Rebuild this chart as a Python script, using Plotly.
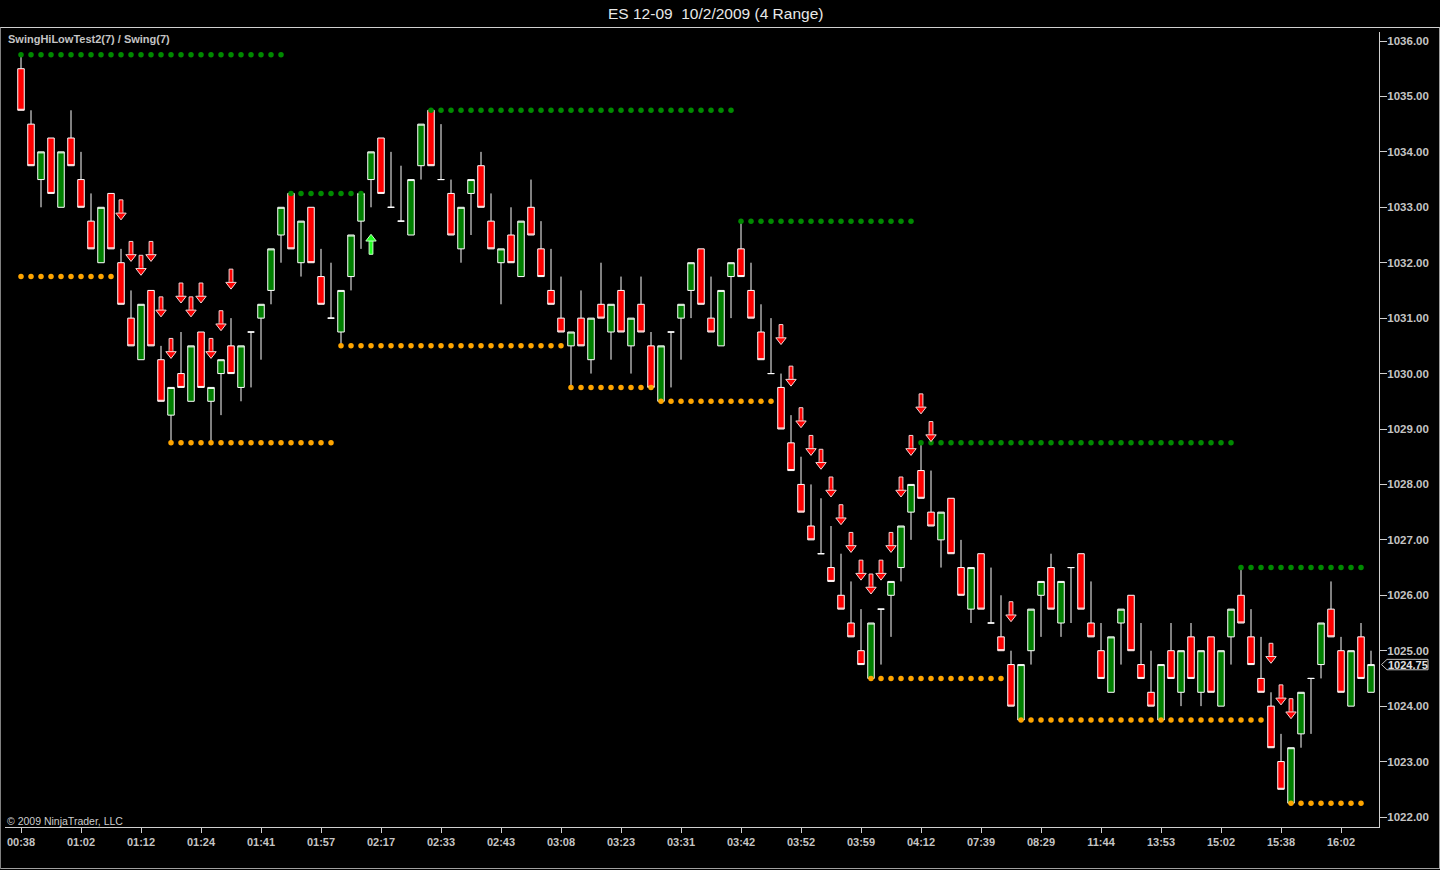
import plotly.graph_objects as go

# ---------------- data ----------------
TITLE = "ES 12-09\u00a0 10/2/2009 (4 Range)"
INDICATOR = "SwingHiLowTest2(7) / Swing(7)"
COPYRIGHT = "\u00a9 2009 NinjaTrader, LLC"

opens = [1035.5, 1034.5, 1033.5, 1034.25, 1033.0, 1034.25, 1033.5, 1032.75, 1032.0, 1033.25,
         1032.0, 1031.0, 1030.25, 1031.5, 1030.25, 1029.25, 1030.0, 1029.5, 1030.75, 1029.5,
         1030.0, 1030.5, 1029.75, 1030.75, 1031.0, 1031.5, 1032.5, 1033.25, 1032.0, 1033.0,
         1031.75, 1031.0, 1030.75, 1031.75, 1032.75, 1033.5, 1034.25, 1033.0, 1032.75, 1032.5,
         1033.75, 1034.75, 1033.5, 1033.25, 1032.25, 1033.25, 1033.75, 1032.75, 1032.0, 1032.5,
         1031.75, 1033.0, 1032.25, 1031.5, 1031.0, 1030.5, 1031.0, 1030.25, 1031.25, 1030.75,
         1031.5, 1030.5, 1031.25, 1030.5, 1029.5, 1030.75, 1031.0, 1031.5, 1032.25, 1031.0,
         1030.5, 1031.75, 1032.25, 1031.5, 1030.75, 1030.0, 1029.75, 1028.75, 1028.0, 1027.25,
         1026.75, 1026.5, 1026.0, 1025.5, 1025.0, 1024.5, 1025.75, 1026.0, 1026.5, 1027.5,
         1028.25, 1027.5, 1027.0, 1027.75, 1026.5, 1025.75, 1026.75, 1025.5, 1025.25, 1024.75,
         1023.75, 1025.0, 1026.0, 1026.5, 1025.5, 1026.5, 1026.75, 1025.5, 1025.0, 1024.25,
         1025.5, 1026.0, 1024.75, 1024.25, 1023.75, 1025.0, 1024.25, 1025.25, 1024.25, 1025.25,
         1024.0, 1025.25, 1026.0, 1025.25, 1024.5, 1024.0, 1023.0, 1022.25, 1023.5, 1024.5,
         1024.75, 1025.75, 1025.0, 1024.0, 1025.25, 1024.25]
highs = [1035.75, 1034.75, 1034.0, 1034.25, 1034.0, 1034.75, 1034.0, 1033.25, 1033.0, 1033.25,
         1032.25, 1031.5, 1031.25, 1031.5, 1030.5, 1029.75, 1030.75, 1030.5, 1030.75, 1029.75,
         1030.25, 1031.0, 1030.5, 1030.75, 1031.25, 1032.25, 1033.0, 1033.25, 1032.75, 1033.0,
         1032.25, 1032.0, 1031.5, 1032.5, 1033.25, 1034.0, 1034.25, 1034.0, 1033.75, 1033.5,
         1034.5, 1034.75, 1034.5, 1033.5, 1033.0, 1033.5, 1034.0, 1033.25, 1032.25, 1033.0,
         1032.75, 1033.5, 1032.75, 1032.25, 1031.75, 1030.75, 1031.5, 1031.0, 1032.0, 1031.25,
         1031.75, 1031.0, 1031.75, 1030.75, 1030.5, 1030.75, 1031.25, 1032.0, 1032.25, 1031.75,
         1031.5, 1032.0, 1032.75, 1032.0, 1031.25, 1031.0, 1030.0, 1029.25, 1028.5, 1028.0,
         1027.75, 1027.25, 1026.75, 1026.25, 1025.75, 1025.5, 1025.75, 1026.25, 1027.25, 1028.0,
         1028.75, 1028.25, 1027.5, 1027.75, 1027.0, 1026.5, 1026.75, 1026.5, 1026.0, 1025.0,
         1024.75, 1025.75, 1026.25, 1026.75, 1026.25, 1026.5, 1026.75, 1026.25, 1025.5, 1025.25,
         1025.75, 1026.0, 1025.5, 1025.0, 1024.75, 1025.5, 1025.0, 1025.5, 1025.0, 1025.25,
         1025.0, 1025.75, 1026.5, 1025.75, 1025.25, 1024.25, 1023.5, 1023.25, 1024.25, 1024.5,
         1025.5, 1026.25, 1025.25, 1025.0, 1025.5, 1025.0]
lows = [1034.75, 1033.75, 1033.0, 1033.25, 1033.0, 1033.75, 1033.0, 1032.25, 1032.0, 1032.25,
        1031.25, 1030.5, 1030.25, 1030.5, 1029.5, 1028.75, 1029.75, 1029.5, 1029.75, 1028.75,
        1029.25, 1030.0, 1029.5, 1029.75, 1030.25, 1031.25, 1032.0, 1032.25, 1031.75, 1032.0,
        1031.25, 1031.0, 1030.5, 1031.5, 1032.25, 1033.0, 1033.25, 1033.0, 1032.75, 1032.5,
        1033.5, 1033.75, 1033.5, 1032.5, 1032.0, 1032.5, 1033.0, 1032.25, 1031.25, 1032.0,
        1031.75, 1032.5, 1031.75, 1031.25, 1030.75, 1029.75, 1030.5, 1030.0, 1031.0, 1030.25,
        1030.75, 1030.0, 1030.75, 1029.75, 1029.5, 1029.75, 1030.25, 1031.0, 1031.25, 1030.75,
        1030.5, 1031.0, 1031.75, 1031.0, 1030.25, 1030.0, 1029.0, 1028.25, 1027.5, 1027.0,
        1026.75, 1026.25, 1025.75, 1025.25, 1024.75, 1024.5, 1024.75, 1025.25, 1026.25, 1027.0,
        1027.75, 1027.25, 1026.5, 1026.75, 1026.0, 1025.5, 1025.75, 1025.5, 1025.0, 1024.0,
        1023.75, 1024.75, 1025.25, 1025.75, 1025.25, 1025.5, 1025.75, 1025.25, 1024.5, 1024.25,
        1024.75, 1025.0, 1024.5, 1024.0, 1023.75, 1024.5, 1024.0, 1024.5, 1024.0, 1024.25,
        1024.0, 1024.75, 1025.5, 1024.75, 1024.25, 1023.25, 1022.5, 1022.25, 1023.25, 1023.5,
        1024.5, 1025.25, 1024.25, 1024.0, 1024.5, 1024.25]
closes = [1034.75, 1033.75, 1034.0, 1033.25, 1034.0, 1033.75, 1033.0, 1032.25, 1033.0, 1032.25,
          1031.25, 1030.5, 1031.25, 1030.5, 1029.5, 1029.75, 1029.75, 1030.5, 1029.75, 1029.75,
          1030.25, 1030.0, 1030.5, 1030.75, 1031.25, 1032.25, 1033.0, 1032.25, 1032.75, 1032.0,
          1031.25, 1031.0, 1031.5, 1032.5, 1033.25, 1034.0, 1033.25, 1033.0, 1032.75, 1033.5,
          1034.5, 1033.75, 1033.5, 1032.5, 1033.0, 1033.5, 1033.0, 1032.25, 1032.25, 1032.0,
          1032.75, 1032.5, 1031.75, 1031.25, 1030.75, 1030.75, 1030.5, 1031.0, 1031.0, 1031.25,
          1030.75, 1031.0, 1030.75, 1029.75, 1030.5, 1030.75, 1031.25, 1032.0, 1031.25, 1030.75,
          1031.5, 1032.0, 1031.75, 1031.0, 1030.25, 1030.0, 1029.0, 1028.25, 1027.5, 1027.0,
          1026.75, 1026.25, 1025.75, 1025.25, 1024.75, 1025.5, 1025.75, 1026.25, 1027.25, 1028.0,
          1027.75, 1027.25, 1027.5, 1026.75, 1026.0, 1026.5, 1025.75, 1025.5, 1025.0, 1024.0,
          1024.75, 1025.75, 1026.25, 1025.75, 1026.25, 1026.5, 1025.75, 1025.25, 1024.5, 1025.25,
          1025.75, 1025.0, 1024.5, 1024.0, 1024.75, 1024.5, 1025.0, 1024.5, 1025.0, 1024.25,
          1025.0, 1025.75, 1025.5, 1024.75, 1024.25, 1023.25, 1022.5, 1023.25, 1024.25, 1024.5,
          1025.5, 1025.25, 1024.25, 1025.0, 1024.5, 1024.75]

time_labels = ["00:38", "01:02", "01:12", "01:24", "01:41", "01:57", "02:17", "02:33",
               "02:43", "03:08", "03:23", "03:31", "03:42", "03:52", "03:59", "04:12",
               "07:39", "08:29", "11:44", "13:53", "15:02", "15:38", "16:02"]
label_step = 6

# swing high / swing low segments (first bar, last bar, price level)
sh_start = [0, 27, 41, 72, 90, 122]
sh_end = [26, 34, 71, 89, 121, 134]
sh_level = [1035.75, 1033.25, 1034.75, 1032.75, 1028.75, 1026.5]
sl_start = [0, 15, 32, 55, 64, 85, 100, 127]
sl_end = [9, 31, 54, 63, 75, 98, 124, 134]
sl_level = [1031.75, 1028.75, 1030.5, 1029.75, 1029.5, 1024.5, 1023.75, 1022.25]

# signal bars
sell_bars = [10, 11, 12, 13, 14, 15, 16, 17, 18, 19, 20, 21,
             76, 77, 78, 79, 80, 81, 82, 83, 84, 85, 86, 87, 88, 89, 90, 91,
             99, 125, 126, 127]
buy_bars = [35]

# ---------------- layout geometry (pixels) ----------------
W, H = 1440, 870
L, R, T, B = 5, 1379, 32, 827
PX_PER_PT = 776 / 14.0
Y_MAX = 1036 + 9 / PX_PER_PT
Y_MIN = Y_MAX - (B - T) / PX_PER_PT
X_MIN = (L - 21) / 10.0
X_MAX = (R - 21) / 10.0


def px_x(p):
    return (p - L) / (R - L)


def px_y(p):
    return (B - p) / (B - T)


def pts(px):
    return px / PX_PER_PT


n = len(closes)
xs = list(range(n))
FONT = "Liberation Sans, Arial, sans-serif"
GRAY = "#c4c4c4"

fig = go.Figure()

fig.add_trace(go.Candlestick(
    x=xs, open=opens, high=highs, low=lows, close=closes,
    increasing=dict(line=dict(color="#ffffff", width=1), fillcolor="#008000"),
    decreasing=dict(line=dict(color="#ffffff", width=1), fillcolor="#ff0000"),
    whiskerwidth=0, hoverinfo="skip", showlegend=False,
))

# swing dots
hx = [i for s, e in zip(sh_start, sh_end) for i in range(s, e + 1)]
hy = [lv for s, e, lv in zip(sh_start, sh_end, sh_level) for _ in range(s, e + 1)]
lx = [i for s, e in zip(sl_start, sl_end) for i in range(s, e + 1)]
ly = [lv for s, e, lv in zip(sl_start, sl_end, sl_level) for _ in range(s, e + 1)]
fig.add_trace(go.Scatter(x=hx, y=hy, mode="markers",
                         marker=dict(color="#008a00", size=5.5, line=dict(width=0)),
                         hoverinfo="skip", showlegend=False))
fig.add_trace(go.Scatter(x=lx, y=ly, mode="markers",
                         marker=dict(color="#ffa500", size=5.5, line=dict(width=0)),
                         hoverinfo="skip", showlegend=False))

# sell arrows (down)
TIP = pts(29)
s_tip = [highs[i] + TIP for i in sell_bars]
fig.add_trace(go.Bar(x=sell_bars, y=[pts(14)] * len(sell_bars),
                     base=[t + pts(6) for t in s_tip], width=0.38,
                     marker=dict(color="#ff0000", line=dict(color="#f4d4d4", width=1)),
                     hoverinfo="skip", showlegend=False))
fig.add_trace(go.Scatter(x=sell_bars, y=[t + pts(4.5) for t in s_tip], mode="markers",
                         marker=dict(symbol="triangle-down", size=9, color="#ff0000",
                                     line=dict(color="#f4d4d4", width=1)),
                         hoverinfo="skip", showlegend=False))
fig.add_trace(go.Bar(x=sell_bars, y=[pts(4)] * len(sell_bars),
                     base=[t + pts(5) for t in s_tip], width=0.28,
                     marker=dict(color="#ff0000", line=dict(width=0)),
                     hoverinfo="skip", showlegend=False))

# buy arrows (up)
b_tip = [lows[i] - pts(27) for i in buy_bars]
fig.add_trace(go.Bar(x=buy_bars, y=[pts(14)] * len(buy_bars),
                     base=[t - pts(20) for t in b_tip], width=0.38,
                     marker=dict(color="#22ff22", line=dict(color="#c8ffc8", width=1)),
                     hoverinfo="skip", showlegend=False))
fig.add_trace(go.Scatter(x=buy_bars, y=[t - pts(4.5) for t in b_tip], mode="markers",
                         marker=dict(symbol="triangle-up", size=9, color="#22ff22",
                                     line=dict(color="#c8ffc8", width=1)),
                         hoverinfo="skip", showlegend=False))
fig.add_trace(go.Bar(x=buy_bars, y=[pts(4)] * len(buy_bars),
                     base=[t - pts(9) for t in b_tip], width=0.28,
                     marker=dict(color="#22ff22", line=dict(width=0)),
                     hoverinfo="skip", showlegend=False))

# ---------------- decorations ----------------
shapes = [
    dict(type="line", xref="paper", yref="paper", x0=px_x(0), x1=px_x(W), y0=px_y(27.5), y1=px_y(27.5),
         line=dict(color="#d0d0d0", width=1)),
    dict(type="line", xref="paper", yref="paper", x0=px_x(0), x1=px_x(W), y0=px_y(868.5), y1=px_y(868.5),
         line=dict(color="#a0a0a0", width=1)),
    dict(type="line", xref="paper", yref="paper", x0=px_x(0.5), x1=px_x(0.5), y0=px_y(27.5), y1=px_y(869),
         line=dict(color="#808080", width=1)),
    dict(type="line", xref="paper", yref="paper", x0=px_x(1439.5), x1=px_x(1439.5), y0=px_y(27.5), y1=px_y(869),
         line=dict(color="#a0a0a0", width=1)),
]
last = closes[-1]
d = pts(5.2)
path = (f"M {px_x(1381.5)},{last} L {px_x(1387)},{last + d} L {px_x(1428)},{last + d} "
        f"L {px_x(1428)},{last - d} L {px_x(1387)},{last - d} Z")
shapes.append(dict(type="path", xref="paper", yref="y", path=path,
                   line=dict(color="#c0c0c0", width=1), fillcolor="#000000"))

annotations = [
    dict(text=TITLE, xref="paper", yref="paper", x=px_x(715), y=px_y(13), showarrow=False,
         xanchor="center", yanchor="middle", font=dict(family=FONT, size=15.5, color="#e8e8e8")),
    dict(text=INDICATOR, xref="paper", yref="paper", x=px_x(6), y=px_y(39), showarrow=False,
         xanchor="left", yanchor="middle", font=dict(family=FONT, size=11, color=GRAY, weight="bold")),
    dict(text=COPYRIGHT, xref="paper", yref="paper", x=px_x(5), y=px_y(820.5), showarrow=False,
         xanchor="left", yanchor="middle", font=dict(family=FONT, size=10.5, color="#cccccc")),
    dict(text=f"{last:.2f}", xref="paper", yref="y", x=px_x(1408), y=last, showarrow=False,
         xanchor="center", yanchor="middle", font=dict(family=FONT, size=11, color="#e0e0e0", weight="bold")),
]

fig.update_layout(
    width=W, height=H,
    margin=dict(l=L, r=W - R, t=T, b=H - B, pad=0),
    paper_bgcolor="#000000", plot_bgcolor="#000000",
    showlegend=False, barmode="overlay",
    boxgap=0.35, boxgroupgap=0,
    shapes=shapes, annotations=annotations,
    xaxis=dict(range=[X_MIN, X_MAX], rangeslider=dict(visible=False),
               tickmode="array", tickvals=[i * label_step for i in range(len(time_labels))],
               ticktext=time_labels, ticks="outside", ticklen=5, tickcolor="#d0d0d0",
               showline=True, linecolor="#d0d0d0", linewidth=1, showgrid=False, zeroline=False,
               tickfont=dict(family=FONT, size=11, color=GRAY, weight="bold"), fixedrange=True),
    yaxis=dict(range=[Y_MIN, Y_MAX], side="right", tickmode="linear", tick0=1022, dtick=1,
               tickformat=".2f", ticks="outside", ticklen=7, tickcolor="#d0d0d0",
               showline=True, linecolor="#d0d0d0", linewidth=1, showgrid=False, zeroline=False,
               ticklabelstandoff=-2,
               tickfont=dict(family=FONT, size=11.5, color=GRAY, weight="bold"), fixedrange=True),
)

fig.write_html("out.html", config={"displayModeBar": False},
               post_script="document.body.style.margin='0';document.body.style.background='#000';document.body.style.overflow='hidden';")
